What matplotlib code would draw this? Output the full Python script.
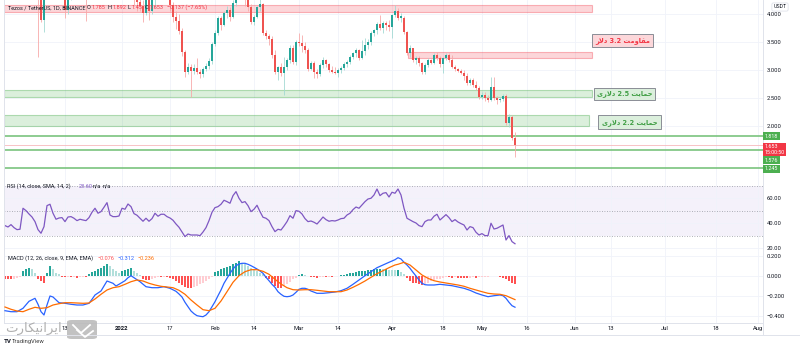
import numpy as np
import matplotlib
matplotlib.use("Agg")
import matplotlib.pyplot as plt
import matplotlib.transforms as mtransforms
from matplotlib.patches import Rectangle, FancyBboxPatch
from matplotlib.lines import Line2D

plt.rcParams['font.family'] = ['Roboto', 'DejaVu Sans']

first_day = np.datetime64('2021-11-23')
ref_day = np.datetime64('2022-01-01')

opens = [5.25, 5.40, 5.30, 5.55, 5.05, 5.20, 5.35, 5.50, 5.60, 5.75,
         5.45, 5.05, 4.45, 3.90, 4.50, 4.65, 4.75, 4.50, 4.40, 4.60,
         4.65, 4.07, 4.40, 4.55, 4.45, 4.35, 4.45, 4.40, 4.30, 4.55,
         4.70, 4.85, 4.95, 5.10, 5.00, 5.15, 4.70, 4.45, 4.55, 4.40,
         4.55, 4.60, 4.45, 4.40, 4.28, 4.22, 4.15, 4.02, 4.30, 4.05,
         4.35, 4.50, 4.35, 4.42, 4.48, 4.40, 4.16, 3.95, 3.88, 3.70,
         3.32, 2.96, 3.06, 2.98, 3.04, 2.97, 2.92, 3.02, 3.07, 3.16,
         3.46, 3.66, 3.93, 3.80, 4.02, 4.08, 3.95, 4.20, 4.40, 4.55,
         4.40, 4.30, 4.13, 3.86, 3.95, 4.12, 4.18, 3.66, 3.60, 3.56,
         3.27, 2.96, 3.05, 2.94, 3.05, 3.18, 3.40, 3.14, 3.50, 3.48,
         3.42, 3.36, 3.02, 3.13, 2.97, 2.92, 3.09, 3.18, 3.11, 3.00,
         2.97, 2.95, 3.00, 3.04, 3.10, 3.14, 3.23, 3.30, 3.36, 3.22,
         3.34, 3.44, 3.50, 3.66, 3.71, 3.82, 3.75, 3.84, 3.80, 3.76,
         3.98, 4.05, 3.93, 3.92, 3.68, 3.30, 3.39, 3.18, 3.21, 3.12,
         2.96, 3.09, 3.18, 3.13, 3.27, 3.22, 3.10, 3.22, 3.27, 3.17,
         3.06, 3.02, 2.99, 2.95, 2.90, 2.77, 2.82, 2.74, 2.68, 2.52,
         2.56, 2.50, 2.46, 2.70, 2.50, 2.46, 2.49, 2.54, 2.05, 2.16, 1.785]
highs = [5.55, 5.50, 5.65, 5.60, 5.35, 5.40, 5.65, 5.85, 6.00, 5.80,
         5.55, 5.10, 4.55, 4.60, 4.80, 4.85, 4.90, 4.70, 4.70, 4.75,
         4.70, 4.45, 4.60, 4.70, 4.50, 4.55, 4.60, 4.45, 4.60, 4.80,
         4.95, 5.05, 5.20, 5.25, 5.30, 5.15, 4.80, 4.65, 4.70, 4.60,
         4.70, 4.65, 4.55, 4.55, 4.35, 4.30, 4.25, 4.35, 4.35, 4.40,
         4.60, 4.60, 4.50, 4.55, 4.55, 4.45, 4.22, 4.05, 4.00, 3.75,
         3.36, 3.12, 3.10, 3.10, 3.22, 3.02, 3.05, 3.12, 3.22, 3.50,
         3.72, 3.96, 3.97, 4.06, 4.15, 4.12, 4.25, 4.60, 4.70, 4.75,
         4.55, 4.35, 4.18, 3.98, 4.15, 4.30, 4.20, 3.72, 3.65, 3.60,
         3.36, 3.08, 3.12, 3.23, 3.22, 3.45, 3.45, 3.54, 3.66, 3.62,
         3.50, 3.40, 3.16, 3.16, 3.02, 3.12, 3.23, 3.20, 3.13, 3.07,
         3.05, 3.03, 3.08, 3.14, 3.18, 3.26, 3.33, 3.40, 3.38, 3.54,
         3.57, 3.55, 3.70, 3.74, 3.85, 3.98, 3.88, 3.88, 3.90, 4.00,
         4.16, 4.10, 4.02, 3.96, 3.70, 3.45, 3.40, 3.25, 3.25, 3.15,
         3.12, 3.22, 3.20, 3.30, 3.32, 3.25, 3.24, 3.30, 3.30, 3.26,
         3.09, 3.04, 3.01, 3.00, 2.95, 2.86, 2.86, 2.80, 2.72, 2.60,
         2.60, 2.55, 2.88, 2.88, 2.54, 2.52, 2.58, 2.58, 2.22, 2.20, 1.892]
lows = [5.10, 5.15, 5.25, 4.85, 5.00, 4.95, 5.30, 5.35, 5.50, 5.35,
        4.90, 3.24, 3.85, 3.68, 4.45, 4.50, 4.45, 4.35, 4.35, 4.50,
        3.93, 4.00, 4.25, 4.40, 4.28, 4.30, 4.35, 3.87, 4.28, 4.50,
        4.60, 4.80, 4.90, 4.90, 4.95, 4.60, 4.40, 4.35, 4.30, 4.35,
        4.45, 4.35, 4.30, 4.15, 4.05, 4.05, 3.86, 3.98, 3.90, 4.00,
        4.13, 4.28, 4.30, 4.35, 4.33, 4.05, 3.85, 3.73, 3.65, 3.25,
        2.88, 2.92, 2.52, 2.92, 2.93, 2.86, 2.88, 2.98, 3.02, 3.10,
        3.42, 3.62, 3.72, 3.78, 3.92, 3.88, 3.92, 4.15, 4.35, 4.30,
        4.15, 4.05, 3.82, 3.80, 3.92, 4.05, 3.62, 3.55, 3.45, 3.22,
        2.92, 2.82, 2.90, 2.55, 3.00, 3.12, 3.10, 3.09, 3.42, 3.33,
        3.30, 2.98, 3.00, 2.86, 2.86, 2.90, 3.04, 3.05, 2.97, 2.95,
        2.92, 2.87, 2.94, 3.00, 3.06, 3.10, 3.19, 3.24, 3.18, 3.20,
        3.27, 3.38, 3.44, 3.60, 3.65, 3.72, 3.66, 3.72, 3.70, 3.57,
        3.95, 3.90, 3.86, 3.64, 3.26, 3.23, 3.15, 3.10, 3.08, 2.92,
        2.93, 3.05, 3.10, 3.10, 3.18, 3.05, 2.95, 3.18, 3.14, 3.03,
        2.98, 2.96, 2.92, 2.82, 2.74, 2.73, 2.70, 2.65, 2.48, 2.48,
        2.45, 2.42, 2.44, 2.46, 2.40, 2.42, 2.45, 2.02, 1.98, 1.75, 1.45]
closes = [5.40, 5.30, 5.55, 5.05, 5.20, 5.35, 5.50, 5.60, 5.75, 5.45,
          5.05, 4.45, 3.90, 4.50, 4.65, 4.75, 4.50, 4.40, 4.60, 4.65,
          4.07, 4.40, 4.55, 4.45, 4.35, 4.45, 4.40, 4.30, 4.55, 4.70,
          4.85, 4.95, 5.10, 5.00, 5.15, 4.70, 4.45, 4.55, 4.40, 4.55,
          4.60, 4.45, 4.40, 4.28, 4.22, 4.15, 4.02, 4.30, 4.05, 4.35,
          4.50, 4.35, 4.42, 4.48, 4.40, 4.16, 3.95, 3.88, 3.70, 3.32,
          2.96, 3.06, 2.98, 3.04, 2.97, 2.92, 3.02, 3.07, 3.16, 3.46,
          3.66, 3.93, 3.80, 4.02, 4.08, 3.95, 4.20, 4.40, 4.55, 4.40,
          4.30, 4.13, 3.86, 3.95, 4.12, 4.18, 3.66, 3.60, 3.56, 3.27,
          2.96, 3.05, 2.94, 3.05, 3.18, 3.40, 3.14, 3.50, 3.48, 3.42,
          3.36, 3.02, 3.13, 2.97, 2.92, 3.09, 3.18, 3.11, 3.00, 2.97,
          2.95, 3.00, 3.04, 3.10, 3.14, 3.23, 3.30, 3.36, 3.22, 3.34,
          3.44, 3.50, 3.66, 3.71, 3.82, 3.75, 3.84, 3.80, 3.76, 3.98,
          4.05, 3.93, 3.96, 3.68, 3.30, 3.39, 3.18, 3.21, 3.12, 2.96,
          3.09, 3.18, 3.13, 3.27, 3.22, 3.10, 3.22, 3.27, 3.17, 3.06,
          3.02, 2.99, 2.95, 2.90, 2.77, 2.82, 2.74, 2.68, 2.52, 2.56,
          2.50, 2.46, 2.70, 2.50, 2.46, 2.49, 2.54, 2.05, 2.16, 1.785, 1.653]

rsi = [38.1, 37.0, 38.9, 36.5, 34.9, 35.2, 52.0, 50.1, 47.4, 45.0,
       41.3, 34.9, 32.0, 37.3, 54.1, 55.2, 48.0, 43.2, 44.2, 44.5,
       41.3, 45.0, 45.3, 44.0, 42.1, 43.2, 42.6, 42.1, 44.5, 48.8,
       52.0, 48.0, 49.3, 52.8, 56.5, 46.6, 45.3, 45.3, 45.8, 52.0,
       51.2, 55.4, 53.3, 47.7, 46.4, 44.0, 41.6, 44.0, 41.6, 43.7,
       48.0, 45.6, 47.2, 47.2, 45.3, 44.2, 42.4, 39.4, 36.8, 33.0,
       29.3, 31.4, 30.6, 30.6, 30.6, 30.1, 33.0, 36.5, 42.1, 48.8,
       52.5, 53.3, 55.2, 58.4, 57.3, 56.0, 62.1, 65.3, 60.0, 56.5,
       57.3, 54.1, 49.3, 51.2, 54.4, 49.3, 44.8, 44.0, 42.1, 37.3,
       33.3, 35.2, 34.6, 37.8, 41.3, 46.1, 44.0, 50.1, 49.6, 47.4,
       43.7, 41.3, 41.8, 40.8, 39.4, 42.1, 45.0, 42.9, 41.6, 42.1,
       41.8, 42.6, 43.7, 44.0, 46.6, 48.0, 50.9, 53.0, 52.0, 54.6,
       57.3, 59.4, 60.0, 62.6, 67.4, 62.1, 64.0, 64.5, 61.0, 64.8,
       64.0, 67.4, 62.6, 52.0, 44.0, 42.6, 41.3, 40.2, 38.1, 37.3,
       41.3, 42.6, 42.6, 45.6, 47.2, 42.6, 44.8, 46.9, 44.5, 41.3,
       42.9, 41.0, 39.7, 38.6, 34.6, 37.3, 36.5, 32.8, 30.6, 31.7,
       30.1, 30.1, 40.0, 35.4, 36.0, 37.3, 38.6, 26.6, 30.1, 25.3, 23.6]

hist = [-0.027, -0.027, -0.03, -0.027, -0.02, -0.01, 0.05, 0.067, 0.083, 0.073,
        0.033, -0.033, -0.05, -0.067, 0.03, 0.1, 0.067, 0.033, 0.017, -0.01,
        -0.013, -0.01, -0.013, -0.01, -0.017, -0.013, -0.01, -0.013, 0.02, 0.04,
        0.05, 0.067, 0.083, 0.1, 0.117, 0.1, 0.067, 0.05, 0.033, 0.05,
        0.06, 0.07, 0.077, 0.05, 0.027, 0.01, -0.033, -0.04, -0.04, -0.027,
        -0.017, -0.01, -0.01, -0.007, -0.01, -0.017, -0.033, -0.05, -0.067, -0.093,
        -0.107, -0.117, -0.12, -0.11, -0.1, -0.083, -0.067, -0.05, -0.03, -0.01,
        0.04, 0.053, 0.067, 0.083, 0.093, 0.1, 0.117, 0.133, 0.15, 0.133,
        0.117, 0.1, 0.083, 0.067, 0.05, 0.033, 0.017, -0.017, -0.033, -0.067,
        -0.1, -0.117, -0.12, -0.1, -0.08, -0.06, -0.033, -0.02, 0.013, 0.017,
        0.013, -0.003, -0.007, -0.013, -0.017, -0.01, -0.007, -0.01, -0.007, -0.01,
        -0.003, -0.003, 0.007, 0.013, 0.02, 0.027, 0.033, 0.04, 0.047, 0.05,
        0.053, 0.06, 0.063, 0.067, 0.07, 0.07, 0.067, 0.067, 0.065, 0.063,
        0.06, 0.065, 0.04, 0.017, -0.017, -0.05, -0.067, -0.073, -0.08, -0.09,
        -0.075, -0.065, -0.05, -0.04, -0.033, -0.025, -0.017, -0.013, -0.013, -0.017,
        -0.013, -0.017, -0.02, -0.02, -0.023, -0.017, -0.013, -0.017, -0.013, -0.01,
        -0.007, -0.005, -0.003, -0.003, -0.003, -0.005, -0.017, -0.033, -0.05, -0.065, -0.076]

macd_days = [-39, -37, -35, -33, -31, -29, -28, -27, -26, -25, -24, -23, -21, -19, -17, -15,
             -13, -11, -10, -9, -7, -5, -3, -2, -1, 1, 2, 3, 4, 6, 8, 10, 12, 14, 16, 18,
             19, 20, 21, 22, 23, 24, 25, 26, 27, 28, 29, 30, 31, 32, 33, 34, 35, 36, 37, 38,
             39, 40, 41, 42, 43, 44, 45, 46, 47, 48, 49, 50, 51, 52, 53, 54, 55, 56, 57, 58,
             59, 60, 61, 62, 63, 65, 67, 69, 71, 73, 75, 77, 79, 81, 83, 85, 87, 89, 91, 92,
             93, 94, 95, 96, 97, 98, 99, 100, 101, 102, 104, 106, 108, 110, 112, 114, 116,
             118, 120, 122, 124, 126, 127, 128, 129, 130, 131]
macd_vals = [-0.347, -0.357, -0.357, -0.323, -0.253, -0.223, -0.283, -0.357, -0.39, -0.29,
             -0.20, -0.21, -0.267, -0.273, -0.283, -0.29, -0.29, -0.273, -0.233, -0.19,
             -0.15, -0.05, -0.073, -0.10, -0.083, -0.047, -0.017, 0.003, -0.017, -0.057,
             -0.107, -0.117, -0.117, -0.107, -0.123, -0.153, -0.18, -0.21, -0.263, -0.307,
             -0.35, -0.377, -0.397, -0.403, -0.407, -0.39, -0.357, -0.307, -0.257, -0.197,
             -0.14, -0.073, -0.023, 0.027, 0.07, 0.103, 0.12, 0.127, 0.127, 0.117,
             0.103, 0.087, 0.07, 0.05, 0.027, -0.013, -0.047, -0.083, -0.113, -0.157,
             -0.183, -0.203, -0.207, -0.203, -0.19, -0.163, -0.133, -0.123, -0.123, -0.133,
             -0.15, -0.173, -0.173, -0.167, -0.16, -0.147, -0.123, -0.083, -0.04, 0.003,
             0.043, 0.083, 0.11, 0.137, 0.163, 0.183, 0.17, 0.137, 0.11, 0.077,
             0.037, 0.0, -0.04, -0.073, -0.087, -0.09, -0.09, -0.083, -0.09, -0.097,
             -0.11, -0.123, -0.143, -0.17, -0.19, -0.207, -0.197, -0.19, -0.197, -0.223,
             -0.263, -0.297, -0.312]
signal_days = [-39, -37, -35, -33, -31, -29, -27, -25, -23, -21, -19, -17, -15, -13, -11,
               -9, -7, -5, -3, -1, 1, 3, 5, 7, 9, 11, 13, 15, 17, 19, 21, 23, 25, 27, 29,
               31, 33, 35, 37, 39, 41, 43, 45, 47, 49, 51, 53, 55, 57, 59, 61, 63, 65, 67,
               69, 71, 73, 75, 77, 79, 81, 83, 85, 87, 89, 91, 92, 94, 96, 98, 100, 102,
               104, 106, 108, 110, 112, 114, 116, 118, 120, 122, 124, 126, 128, 130, 131]
signal_vals = [-0.31, -0.333, -0.35, -0.357, -0.333, -0.313, -0.323, -0.317, -0.29, -0.277,
               -0.267, -0.267, -0.27, -0.273, -0.27, -0.23, -0.183, -0.14, -0.117, -0.107,
               -0.083, -0.057, -0.04, -0.05, -0.073, -0.09, -0.103, -0.11, -0.117, -0.143,
               -0.183, -0.24, -0.29, -0.337, -0.347, -0.323, -0.25, -0.157, -0.063, 0.003,
               0.043, 0.063, 0.063, 0.047, 0.017, -0.033, -0.08, -0.117, -0.137, -0.14,
               -0.137, -0.137, -0.143, -0.15, -0.157, -0.157, -0.157, -0.14, -0.113, -0.083,
               -0.05, -0.013, 0.023, 0.053, 0.083, 0.11, 0.117, 0.137, 0.11, 0.06,
               0.01, -0.023, -0.047, -0.06, -0.07, -0.08, -0.09, -0.103, -0.123, -0.14,
               -0.157, -0.173, -0.18, -0.183, -0.197, -0.223, -0.236]

tick_dates = ['2021-12-13', '2022-01-01', '2022-01-17', '2022-02-01', '2022-02-14',
              '2022-03-01', '2022-03-14', '2022-04-01', '2022-04-18', '2022-05-01',
              '2022-05-16', '2022-06-01', '2022-06-13', '2022-07-01', '2022-07-18', '2022-08-01']
tick_labels = ['13', '2022', '17', 'Feb', '14', 'Mar', '14', 'Apr', '18', 'May',
               '16', 'Jun', '13', 'Jul', '18', 'Aug']

price_ticks = [2.0, 2.5, 3.0, 3.5, 4.0]
rsi_ticks = [20, 40, 60]
macd_ticks = [-0.4, -0.2, 0.0, 0.2]

res_zones = [(4.04, 4.16), (3.22, 3.33)]
sup_zones = [(2.52, 2.64), (2.00, 2.20)]
sup_lines = [1.818, 1.576, 1.245]
last_price = 1.653

# persian labels (presentation forms, visual order)
lbl_res = '\uFEAD\uFEFB\uFEA9 3.2 \uFE96\uFEE3\uFEED\uFE8E\uFED8\uFEE3'
lbl_s25 = '\uFEEF\uFEAD\uFEFB\uFEA9 2.5 \uFE96\uFEF3\uFE8E\uFEE4\uFEA3'
lbl_s22 = '\uFEEF\uFEAD\uFEFB\uFEA9 2.2 \uFE96\uFEF3\uFE8E\uFEE4\uFEA3'
wm_text = '\uFE95\uFEAD\uFE8E\uFEDC\uFEF4\uFEE7\uFE8D\uFEAE\uFEF3\uFE8D'

W, H = 800, 351
def fx(px):
    return px / W
def fy(py):
    return 1 - py / H

days = (first_day - ref_day).astype(int) + np.arange(len(closes))
o, h, l, c = map(np.array, (opens, highs, lows, closes))
tick_pos = [(np.datetime64(t) - ref_day).astype(int) for t in tick_dates]

fig = plt.figure(figsize=(8, 3.51), dpi=100)
fig.patch.set_facecolor('white')
ax1 = fig.add_axes([fx(4), fy(177), 759 / W, 177 / H])
ax2 = fig.add_axes([fx(4), fy(251), 759 / W, 74 / H], sharex=ax1)
ax3 = fig.add_axes([fx(4), fy(323), 759 / W, 72 / H], sharex=ax1)

xl, xr = (4 - 122) / 3, (763 - 122) / 3
ax1.set_xlim(xl, xr)
ax1.set_ylim(1.089, 4.25)
ax2.set_ylim(17.8, 77.0)
ax3.set_ylim(-0.47, 0.25)

txt = '#131722'
for ax in (ax1, ax2, ax3):
    ax.set_facecolor('white')
    ax.set_xticks(tick_pos)
    ax.grid(color='#f0f3fa', lw=0.6, zorder=0)
    ax.yaxis.tick_right()
    ax.tick_params(axis='y', length=0, pad=2.8, labelsize=4.2, labelcolor=txt)
    ax.tick_params(axis='x', length=0)
    ax.spines['top'].set_visible(False)
    for s in ('left', 'right', 'bottom'):
        ax.spines[s].set_color('#e0e3eb')
        ax.spines[s].set_linewidth(0.7)
ax1.tick_params(axis='x', labelbottom=False)
ax2.tick_params(axis='x', labelbottom=False)
ax3.set_xticklabels(tick_labels)
ax3.tick_params(axis='x', labelsize=4.2, labelcolor=txt, pad=2.5)
for lab in ax3.get_xticklabels():
    if lab.get_text() == '2022':
        lab.set_fontweight('bold')

ax1.set_yticks(price_ticks)
ax1.set_yticklabels(['%.3f' % v for v in price_ticks])
ax2.set_yticks(rsi_ticks)
ax2.set_yticklabels(['%.2f' % v for v in rsi_ticks])
ax3.set_yticks(macd_ticks)
ax3.set_yticklabels([('%.3f' % v).replace('-', '\u2212') for v in macd_ticks])

# zones
for lo, hi in res_zones:
    x0 = xl if lo > 4 else 95.3
    ax1.add_patch(Rectangle((x0, lo), 156.7 - x0, hi - lo, fc=(0.949, 0.212, 0.271, 0.2),
                            ec=(0.949, 0.212, 0.271, 0.35), lw=0.8, zorder=2))
for (lo, hi), xe in zip(sup_zones, (156.7, 155.7)):
    ax1.add_patch(Rectangle((xl, lo), xe - xl, hi - lo, fc=(0.298, 0.686, 0.314, 0.2),
                            ec=(0.298, 0.686, 0.314, 0.4), lw=0.8, zorder=2))
for v in sup_lines:
    ax1.axhline(v, color='#6fbf73', lw=1.1, zorder=2)
ax1.axhline(last_price, color='#f7b9bd', lw=0.6, zorder=2)

# candles
up = c >= o
body_col = np.where(up, '#26a69a', '#ef5350')
wick_col = np.where(up, '#a3d9d3', '#f7aaa9')
ax1.vlines(days, l, h, colors=wick_col, lw=0.6, zorder=3)
ax1.bar(days, np.maximum(np.abs(c - o), 0.008), bottom=np.minimum(o, c), width=0.66,
        color=body_col, lw=0, zorder=4)

# labels on zones
ax1.text(166.8, 3.52, lbl_res, family='DejaVu Sans', fontsize=4.8, fontweight='bold',
         color='#f23645', ha='center', va='center', zorder=6,
         bbox=dict(boxstyle='square,pad=0.45', fc='#fcd7da', ec='#8a8d96', lw=0.7))
ax1.text(167.5, 2.571, lbl_s25, family='DejaVu Sans', fontsize=4.8, fontweight='bold',
         color='#43a047', ha='center', va='center', zorder=6,
         bbox=dict(boxstyle='square,pad=0.45', fc='#dbefdc', ec='#8a8d96', lw=0.7))
ax1.text(169.2, 2.07, lbl_s22, family='DejaVu Sans', fontsize=4.8, fontweight='bold',
         color='#43a047', ha='center', va='center', zorder=6,
         bbox=dict(boxstyle='square,pad=0.55', fc='#dbefdc', ec='#8a8d96', lw=0.7))

# price tags
trans = mtransforms.blended_transform_factory(ax1.transAxes, ax1.transData)
tags = [(1.818, '1.818', '#4caf50', 0), (1.576, '1.576', '#4caf50', -7.5),
        (1.245, '1.245', '#4caf50', -0.5), (last_price, '1.653\n15:00:50', '#f23645', -3.0)]
for v, s, col, dy in tags:
    ax1.annotate(s, xy=(1.0, v), xycoords=trans, xytext=(1.2, dy), textcoords='offset points',
                 ha='left', va='center', fontsize=3.9, color='white', linespacing=1.1,
                 annotation_clip=False, zorder=7,
                 bbox=dict(boxstyle='square,pad=0.3', fc=col, ec='none'))

# rsi
ax2.axhspan(30, 70, color='#7e57c2', alpha=0.08, lw=0)
for lvl in (70, 50, 30):
    ax2.axhline(lvl, color='#9598a1', lw=0.6, ls=(0, (1, 2)))
ax2.plot(days, rsi, color='#7e57c2', lw=0.9)

# macd
hv = np.array(hist)
prev = np.r_[hv[0], hv[:-1]]
hcol = np.where(hv >= 0, np.where(hv >= prev, '#26a69a', '#b2dfdb'),
                np.where(hv <= prev, '#ff5252', '#ffcdd2'))
ax3.bar(days, hv, width=0.8, color=hcol, lw=0, zorder=2)
ax3.plot(macd_days, macd_vals, color='#2962ff', lw=0.9, zorder=3)
ax3.plot(signal_days, signal_vals, color='#ff6d00', lw=0.9, zorder=3)

# header and legends
fs = 4.0
fig.text(fx(8), fy(7.5), 'Tezos / TetherUS, 1D, BINANCE', fontsize=fs, color=txt, va='center')
for px, s, col in [(87, 'O', txt), (91, '1.785', '#f23645'), (108, 'H', txt), (112, '1.892', '#f23645'),
                   (128, 'L', txt), (131, '1.45', '#f23645'), (145, 'C', txt), (149, '1.653', '#f23645'),
                   (167, '\u22120.137 (\u22127.65%)', '#f23645')]:
    fig.text(fx(px), fy(7.5), s, fontsize=fs, color=col, va='center')

fig.text(fx(7), fy(186), 'RSI (14, close, SMA, 14, 2)', fontsize=fs, color=txt, va='center')
fig.text(fx(79), fy(186), '23.60', fontsize=fs, color='#7e57c2', va='center')
fig.text(fx(93), fy(186), 'n/a', fontsize=fs, color=txt, va='center')
fig.text(fx(103), fy(186), 'n/a', fontsize=fs, color=txt, va='center')

fig.text(fx(8), fy(258), 'MACD (12, 26, close, 9, EMA, EMA)', fontsize=fs, color=txt, va='center')
fig.text(fx(97), fy(258), '\u22120.076', fontsize=fs, color='#ff5252', va='center')
fig.text(fx(118), fy(258), '\u22120.312', fontsize=fs, color='#2962ff', va='center')
fig.text(fx(137), fy(258), '\u22120.236', fontsize=fs, color='#ff6d00', va='center')

fig.text(fx(780), fy(7), 'USDT', fontsize=3.8, color=txt, ha='center', va='center',
         bbox=dict(boxstyle='round,pad=0.3', fc='white', ec='#e0e3eb', lw=0.6))

# bottom frame
fig.add_artist(Line2D([0, 1], [fy(335), fy(335)], color='#e0e3eb', lw=0.7))
fig.add_artist(Line2D([fx(763), fx(763)], [fy(335), fy(323)], color='#e0e3eb', lw=0.7))

# watermark and logos
fig.text(fx(5), fy(328), wm_text, family='DejaVu Sans', fontsize=9.5, color='#a8a8a8',
         alpha=0.9, va='center', ha='left')
fig.add_artist(FancyBboxPatch((fx(67), fy(339)), fx(30), 19 / H, transform=fig.transFigure,
                              boxstyle='round,pad=0,rounding_size=0.006', fc='#b8b8b8',
                              ec='none', alpha=0.85))
fig.add_artist(Line2D([fx(73), fx(81), fx(90)], [fy(325), fy(333), fy(325)],
                      color='white', lw=1.3))
fig.add_artist(Line2D([fx(77), fx(85), fx(93)], [fy(330), fy(337), fy(331)],
                      color='white', lw=1.3))
fig.text(fx(4), fy(341.5), 'TV', fontsize=4.4, fontweight='bold', color=txt, va='center')
fig.text(fx(12), fy(341.5), 'TradingView', fontsize=4.2, color='#3c3c3c', va='center')

fig.savefig('out.png', dpi=100, facecolor='white')
